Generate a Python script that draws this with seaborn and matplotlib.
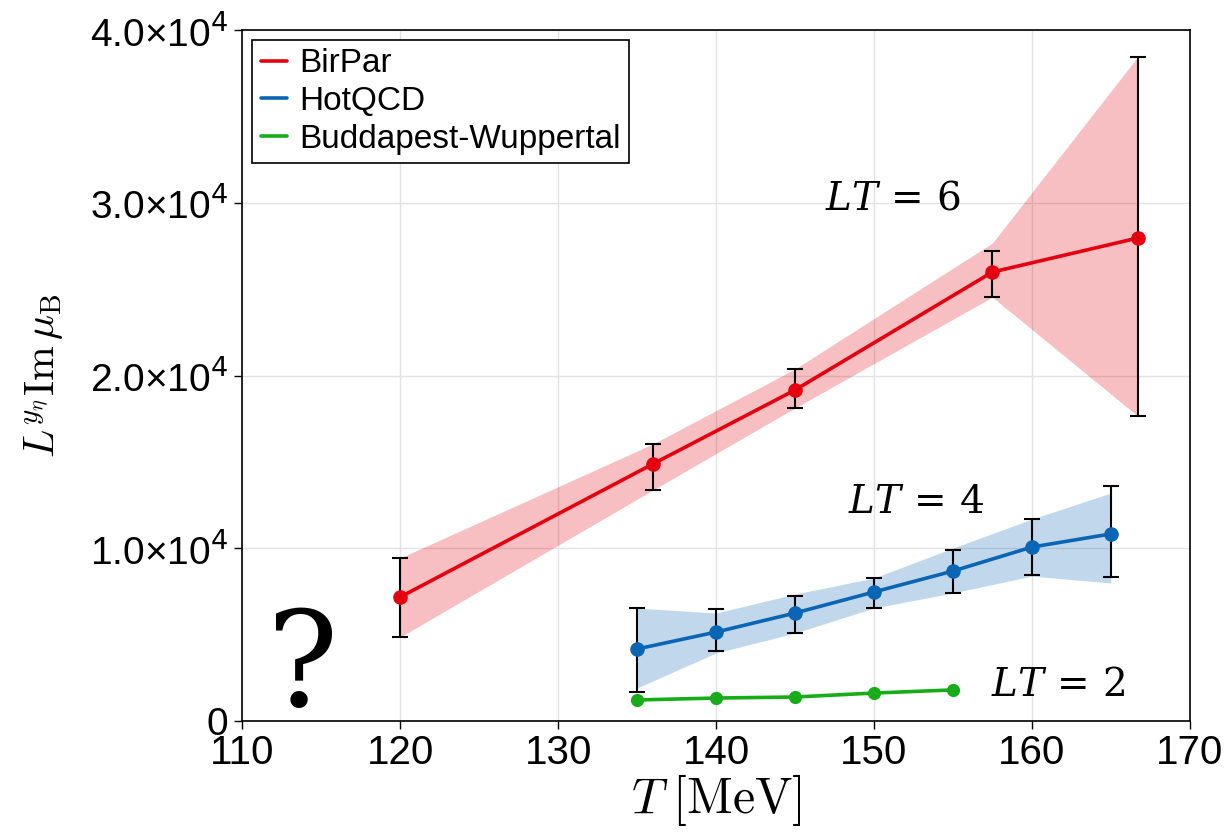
import numpy as np
import matplotlib
matplotlib.use("Agg")
import matplotlib.pyplot as plt
import seaborn as sns

# BirPar (LT = 6)
T_birpar = [120.0, 136.0, 145.0, 157.5, 166.7]
y_birpar = [7180, 14880, 19160, 25990, 27960]
err_birpar_lo = [2320, 1510, 1040, 1450, 10300]
err_birpar_hi = [2260, 1160, 1220, 1220, 10480]
band_birpar_lo = [4860, 13370, 18120, 24540, 17660]
band_birpar_hi = [9440, 16040, 20380, 27670, 38440]

# HotQCD (LT = 4)
T_hotqcd = [135, 140, 145, 150, 155, 160, 165]
y_hotqcd = [4170, 5150, 6250, 7470, 8680, 10070, 10830]
err_hotqcd_lo = [2490, 1100, 1160, 930, 1270, 1620, 2490]
err_hotqcd_hi = [2370, 1330, 980, 810, 1220, 1620, 2780]
band_hotqcd_lo = [1910, 3940, 5090, 6540, 7410, 8390, 7990]
band_hotqcd_hi = [6540, 6250, 7350, 8280, 10010, 11690, 13200]

# Budapest-Wuppertal (LT = 2)
T_bw = [135, 140, 145, 150, 155]
y_bw = [1220, 1330, 1390, 1620, 1800]

red = "#e5000f"
blue = "#0a66b4"
green = "#16ad18"

sns.set_theme(style="whitegrid")
plt.rcParams["font.family"] = ["Liberation Sans", "DejaVu Sans"]
plt.rcParams["mathtext.fontset"] = "cm"
plt.rcParams["text.color"] = "black"
plt.rcParams["axes.labelcolor"] = "black"
plt.rcParams["xtick.color"] = "black"
plt.rcParams["ytick.color"] = "black"

fig = plt.figure(figsize=(12.24, 8.35), dpi=100)
ax = fig.add_axes([0.198, 0.1365, 0.774, 0.8275])

# bands
ax.fill_between(T_birpar, band_birpar_lo, band_birpar_hi, color=red, alpha=0.25, lw=0)
ax.fill_between(T_hotqcd, band_hotqcd_lo, band_hotqcd_hi, color=blue, alpha=0.25, lw=0)

# lines
sns.lineplot(x=T_birpar, y=y_birpar, color=red, lw=2.6, ax=ax, label="BirPar", zorder=3)
sns.lineplot(x=T_hotqcd, y=y_hotqcd, color=blue, lw=2.6, ax=ax, label="HotQCD", zorder=3)
sns.lineplot(x=T_bw, y=y_bw, color=green, lw=2.6, ax=ax, label="Buddapest-Wuppertal", zorder=3)

# error bars
ax.errorbar(T_birpar, y_birpar, yerr=[err_birpar_lo, err_birpar_hi], fmt="none",
            ecolor="black", elinewidth=1.5, capsize=6, capthick=1.5, zorder=4)
ax.errorbar(T_hotqcd, y_hotqcd, yerr=[err_hotqcd_lo, err_hotqcd_hi], fmt="none",
            ecolor="black", elinewidth=1.5, capsize=6, capthick=1.5, zorder=4)

# markers
ax.scatter(T_birpar, y_birpar, s=110, color=red, zorder=5, linewidths=0)
ax.scatter(T_hotqcd, y_hotqcd, s=110, color=blue, zorder=5, linewidths=0)
ax.scatter(T_bw, y_bw, s=90, color=green, zorder=5, linewidths=0)

# annotations
ax.text(151.2, 30200, "$LT\\,=\\,6$", fontsize=28, ha="center", va="center", math_fontfamily="dejavuserif")
ax.text(152.7, 12600, "$LT\\,=\\,4$", fontsize=28, ha="center", va="center", math_fontfamily="dejavuserif")
ax.text(161.7, 2000, "$LT\\,=\\,2$", fontsize=28, ha="center", va="center", math_fontfamily="dejavuserif")
ax.text(113.8, 3000, "?", fontsize=96, ha="center", va="center", family="DejaVu Serif")

ax.set_xlim(110, 170)
ax.set_ylim(0, 40000)
ax.set_xticks([110, 120, 130, 140, 150, 160, 170])
ax.set_yticks([0, 10000, 20000, 30000, 40000])
ax.set_yticklabels(["0", "1.0×10$^4$", "2.0×10$^4$", "3.0×10$^4$", "4.0×10$^4$"])
ax.tick_params(axis="both", direction="out", length=6, width=1, color="black",
               bottom=True, left=True, pad=4)
ax.tick_params(axis="x", labelsize=29, pad=3)
ax.tick_params(axis="y", labelsize=28)
for lbl in ax.get_yticklabels():
    lbl.set_math_fontfamily("dejavusans")

ax.set_xlabel("$T\\;[\\mathrm{MeV}]$", fontsize=36, labelpad=0)
ax.set_ylabel("$L^{y_\\eta}\\mathrm{Im}\\,\\mu_\\mathrm{B}$", fontsize=30, labelpad=18)

ax.grid(True, color="#e2e2e2", lw=1)
for s in ax.spines.values():
    s.set_color("black")
    s.set_linewidth(1.2)

leg = ax.legend(loc="upper left", fontsize=24, frameon=True, fancybox=False, framealpha=1,
                edgecolor="black", handlelength=0.8, handletextpad=0.35, borderpad=0.25,
                labelspacing=0.2, borderaxespad=0.3)
leg.get_frame().set_linewidth(1.2)

fig.savefig("out.png", dpi=100)
